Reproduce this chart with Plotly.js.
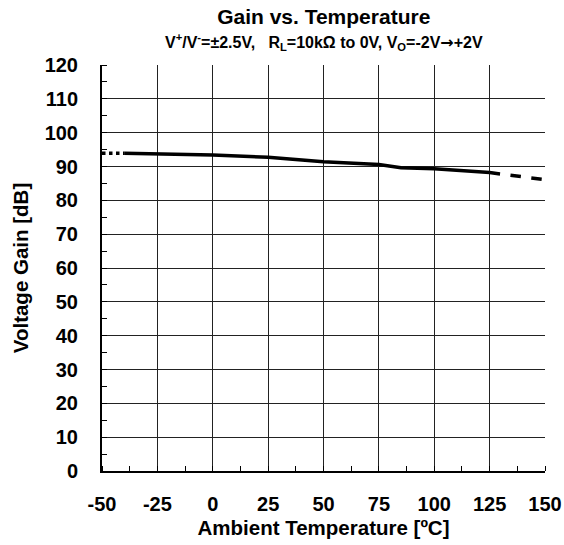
<!DOCTYPE html>
<html>
<head>
<meta charset="utf-8">
<script src="https://cdn.plot.ly/plotly-3.0.1.min.js"></script>
<style>html,body{margin:0;padding:0;background:#fff;}#chart{width:564px;height:545px;}</style>
</head>
<body>
<div id="chart"></div>
<script>
// Data
const tempSolid = [-40, -25, 0, 25, 50, 75, 85, 100, 125];
const gainSolid = [93.9, 93.8, 93.4, 92.7, 91.4, 90.6, 89.6, 89.3, 88.2];
const tempLow = [-50, -40];
const gainLow = [93.9, 93.9];
const tempHigh = [125, 150];
const gainHigh = [88.2, 86.1];
const xTicks = [-50, -25, 0, 25, 50, 75, 100, 125, 150];
const yTicks = [0, 10, 20, 30, 40, 50, 60, 70, 80, 90, 100, 110, 120];

const FONT = "Liberation Sans, Arial, sans-serif";
const lineStyle = {color: '#000', width: 3.5};

const traces = [
  {x: tempLow, y: gainLow, mode: 'lines', line: Object.assign({dash: 'dot'}, lineStyle), showlegend: false, hoverinfo: 'skip'},
  {x: tempSolid, y: gainSolid, mode: 'lines', line: Object.assign({dash: 'solid'}, lineStyle), showlegend: false},
  {x: tempHigh, y: gainHigh, mode: 'lines', line: Object.assign({dash: 'dash'}, lineStyle), showlegend: false, hoverinfo: 'skip'}
];

const layout = {
  width: 564, height: 545,
  margin: {l: 102, r: 19, t: 65, b: 74},
  paper_bgcolor: '#fff', plot_bgcolor: '#fff',
  font: {family: FONT, color: '#000'},
  showlegend: false,
  title: {text: '<b>Gain vs. Temperature</b>', font: {family: FONT, size: 21, color: '#000'},
          x: 0.574, xanchor: 'center', y: 0.969, yanchor: 'middle'},
  annotations: [{
    text: '<b>V<sup>+</sup>/V<sup>-</sup>=±2.5V,   R<sub>L</sub>=10kΩ to 0V, V<sub>O</sub>=-2V<span style="font-family:DejaVu Sans">→</span>+2V</b>',
    xref: 'paper', yref: 'paper', x: 0.5, y: 1.056, xanchor: 'center', yanchor: 'middle',
    showarrow: false, font: {family: FONT, size: 16, color: '#000'}
  }],
  xaxis: {
    range: [-50, 150], tickmode: 'array', tickvals: xTicks, ticktext: xTicks.map(v => '<b>' + v + '</b>'),
    showgrid: true, gridcolor: '#222', gridwidth: 1,
    showline: true, linecolor: '#000', linewidth: 2, mirror: false,
    ticks: '', zeroline: false, ticklabelstandoff: 14,
    tickfont: {family: FONT, size: 20, color: '#000'},
    minor: {dtick: 12.5, tick0: -50, ticks: 'inside', ticklen: 5, tickcolor: '#000', tickwidth: 1, showgrid: false},
    title: {text: '<b>Ambient Temperature [ºC]</b>', font: {family: FONT, size: 20.5, color: '#000'}, standoff: 7}
  },
  yaxis: {
    range: [0, 120], tickmode: 'array', tickvals: yTicks, ticktext: yTicks.map(v => '<b>' + v + '</b>'),
    showgrid: true, gridcolor: '#222', gridwidth: 1,
    showline: true, linecolor: '#000', linewidth: 2, mirror: false,
    ticks: '', zeroline: false, ticklabelstandoff: 18,
    tickfont: {family: FONT, size: 20, color: '#000'},
    minor: {dtick: 5, tick0: 0, ticks: 'inside', ticklen: 5, tickcolor: '#000', tickwidth: 1, showgrid: false},
    title: {text: '<b>Voltage Gain [dB]</b>', font: {family: FONT, size: 20.5, color: '#000'}, standoff: 10}
  }
};

Plotly.newPlot('chart', traces, layout, {displayModeBar: false, staticPlot: true});
</script>
</body>
</html>
